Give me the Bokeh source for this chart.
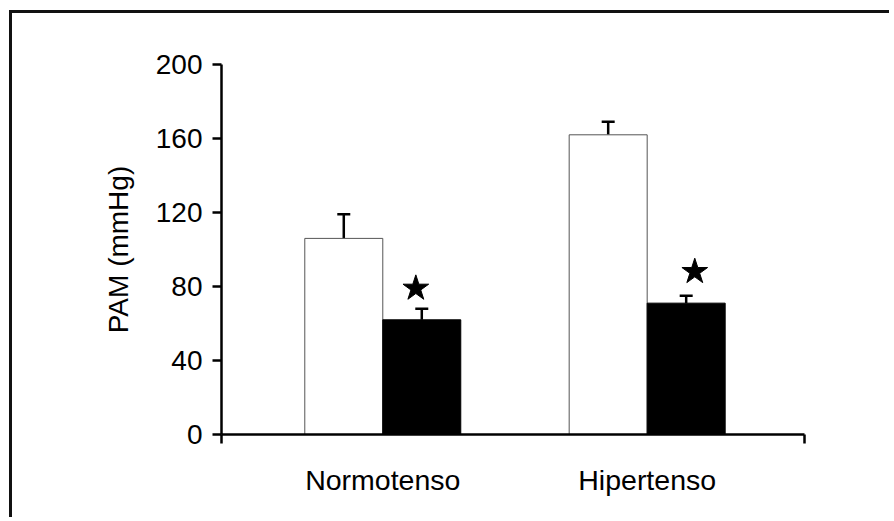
from bokeh.plotting import figure
from bokeh.models import Range1d, FixedTicker, LinearAxis, Whisker, TeeHead, ColumnDataSource
from bokeh.embed import file_html
from bokeh.resources import INLINE

categories = ["Normotenso", "Hipertenso"]
control_mean = [106, 162]
control_err_top = [119, 169]
treated_mean = [62, 71]
treated_err_top = [68, 75]
star_x = [1.125, 2.18]
star_y = [79, 88]
y_ticks = [0, 40, 80, 120, 160, 200]
y_title = "PAM (mmHg)"

FONT = "Liberation Sans"
pos = [i + 1 for i in range(len(categories))]
bw = 0.295
x_start, x_end = 0.39, 2.595

p = figure(width=880, height=507, output_backend="svg", toolbar_location=None,
           x_range=Range1d(x_start, x_end), y_range=Range1d(0, 200),
           min_border_left=209, min_border_right=88, min_border_top=51, min_border_bottom=86,
           x_axis_type=None, y_axis_type=None)
p.grid.visible = False
p.outline_line_color = None
p.background_fill_color = "white"
p.border_fill_color = "white"
p.styles = {"border-left": "3px solid #111", "border-top": "3px solid #111",
            "margin-left": "9px", "margin-top": "10px"}

xc = [x - bw / 2 for x in pos]
xt = [x + bw / 2 for x in pos]
src_c = ColumnDataSource(dict(x=xc, top=control_mean, err=control_err_top))
src_t = ColumnDataSource(dict(x=xt, top=treated_mean, err=treated_err_top))
src_s = ColumnDataSource(dict(x=star_x, y=star_y))

p.vbar(x="x", top="top", bottom=0, width=bw, source=src_c, fill_color="white",
       line_color="#555555", line_width=1)
p.vbar(x="x", top="top", bottom=0, width=bw, source=src_t, fill_color="black",
       line_color="black", line_width=1)

for src in (src_c, src_t):
    w = Whisker(base="x", lower="top", upper="err", source=src, dimension="height",
                line_color="black", line_width=2.5, lower_head=None,
                upper_head=TeeHead(size=13, line_width=2.5, line_color="black"))
    p.add_layout(w)

p.scatter(x="x", y="y", source=src_s, marker="star", size=27,
          fill_color="black", line_color="black")

yax = LinearAxis(ticker=FixedTicker(ticks=y_ticks, minor_ticks=[]))
yax.axis_label = y_title
yax.axis_label_text_font = FONT
yax.axis_label_text_font_size = "28px"
yax.axis_label_text_font_style = "normal"
yax.axis_label_text_color = "black"
yax.axis_label_standoff = 19
yax.major_label_text_font = FONT
yax.major_label_text_font_size = "28px"
yax.major_label_text_color = "black"
yax.major_label_standoff = 10
yax.major_tick_out = 9
yax.major_tick_in = 0
yax.major_tick_line_width = 2.5
yax.axis_line_width = 2.5
yax.axis_line_color = "black"
yax.major_tick_line_color = "black"
p.add_layout(yax, "left")

xax = LinearAxis(ticker=FixedTicker(ticks=pos, minor_ticks=[x_start, x_end]))
xax.major_label_overrides = {x: c for x, c in zip(pos, categories)}
xax.major_label_text_font = FONT
xax.major_label_text_font_size = "28.5px"
xax.major_label_text_color = "black"
xax.major_label_standoff = 20
xax.major_tick_out = 0
xax.major_tick_in = 0
xax.minor_tick_out = 9
xax.minor_tick_in = 0
xax.minor_tick_line_width = 2.5
xax.minor_tick_line_color = "black"
xax.axis_line_width = 2.5
xax.axis_line_color = "black"
p.add_layout(xax, "below")

open("out.html", "w").write(file_html(p, INLINE))
